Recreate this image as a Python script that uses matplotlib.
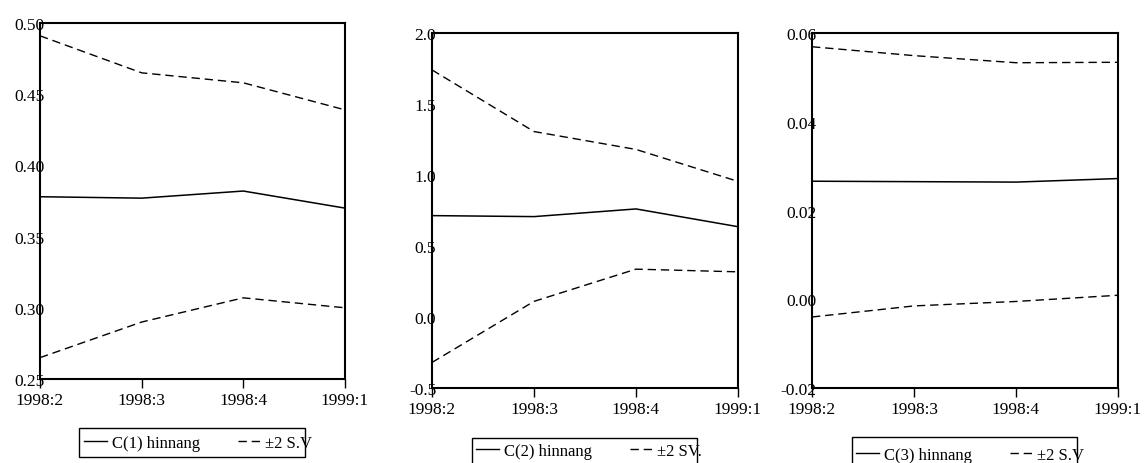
import numpy as np
import matplotlib
matplotlib.use('Agg')
import matplotlib.pyplot as plt
from matplotlib.lines import Line2D
from matplotlib.patches import Rectangle

plt.rcParams['font.family'] = ['Liberation Serif', 'DejaVu Serif']
plt.rcParams['lines.scale_dashes'] = False

# data
quarters = ['1998:2', '1998:3', '1998:4', '1999:1']

c1 = [0.378, 0.377, 0.382, 0.370]
c1_upper = [0.491, 0.465, 0.458, 0.439]
c1_lower = [0.265, 0.290, 0.307, 0.300]

c2 = [0.714, 0.707, 0.761, 0.636]
c2_upper = [1.740, 1.306, 1.180, 0.955]
c2_lower = [-0.320, 0.110, 0.337, 0.318]

c3 = [0.0266, 0.0265, 0.0264, 0.0272]
c3_upper = [0.0569, 0.0549, 0.0533, 0.0534]
c3_lower = [-0.0040, -0.0015, -0.0005, 0.0009]

yticks1 = [0.25, 0.30, 0.35, 0.40, 0.45, 0.50]
yticks2 = [-0.5, 0.0, 0.5, 1.0, 1.5, 2.0]
yticks3 = [-0.02, 0.00, 0.02, 0.04, 0.06]

labels = ['C(1) hinnang', 'C(2) hinnang', 'C(3) hinnang']
band_labels = ['±2 S.V', '±2 SV.', '±2 S.V']

W, H = 1148, 464
fig = plt.figure(figsize=(W / 100, H / 100), dpi=100)

# pixel boxes: left, top, right, bottom
axes_px = [(40, 24, 345, 380), (432, 34, 738, 389), (812, 34, 1118, 389)]
legend_box_px = [(79, 429, 305, 458), (472, 439, 697, 470), (852, 438, 1077, 470)]
legend_anchor_px = [(84, 444), (476, 452), (856, 456)]

panels = [
    (c1, c1_upper, c1_lower, yticks1, '%.2f'),
    (c2, c2_upper, c2_lower, yticks2, '%.1f'),
    (c3, c3_upper, c3_lower, yticks3, '%.2f'),
]

x = np.arange(len(quarters))

for i, (mid, up, lo, yt, fmt) in enumerate(panels):
    l, t, r, b = axes_px[i]
    ax = fig.add_axes([l / W, 1 - b / H, (r - l) / W, (b - t) / H])
    ax.plot(x, mid, color='black', lw=1.1)
    ax.plot(x, up, color='black', lw=1.0, dashes=(6, 3.5))
    ax.plot(x, lo, color='black', lw=1.0, dashes=(6, 3.5))
    ax.set_xlim(0, 3)
    ax.set_ylim(yt[0], yt[-1])
    ax.set_xticks(x)
    ax.set_xticklabels(quarters)
    ax.set_yticks(yt)
    ax.set_yticklabels([fmt % v for v in yt])
    ax.tick_params(axis='x', direction='out', length=6.5, width=1, pad=3, labelsize=12.5)
    ax.tick_params(axis='y', length=0, pad=-3, labelsize=12.5)
    for s in ax.spines.values():
        s.set_linewidth(1.5)

    # legend
    handles = [Line2D([], [], color='black', lw=1.0),
               Line2D([], [], color='black', lw=1.0, dashes=(6, 3.5))]
    ax_x, ax_y = legend_anchor_px[i]
    fig.legend(handles, [labels[i], band_labels[i]], loc='center left',
               bbox_to_anchor=(ax_x / W, 1 - ax_y / H), ncol=2, frameon=False,
               fontsize=12, handlelength=1.4, handletextpad=0.25,
               columnspacing=2.3, borderpad=0, borderaxespad=0)
    bl, bt, br, bb = legend_box_px[i]
    fig.patches.append(Rectangle((bl / W, 1 - bb / H), (br - bl) / W, (bb - bt) / H,
                                 transform=fig.transFigure, fill=False,
                                 edgecolor='black', lw=1.0))

fig.savefig('out.png', dpi=100)
